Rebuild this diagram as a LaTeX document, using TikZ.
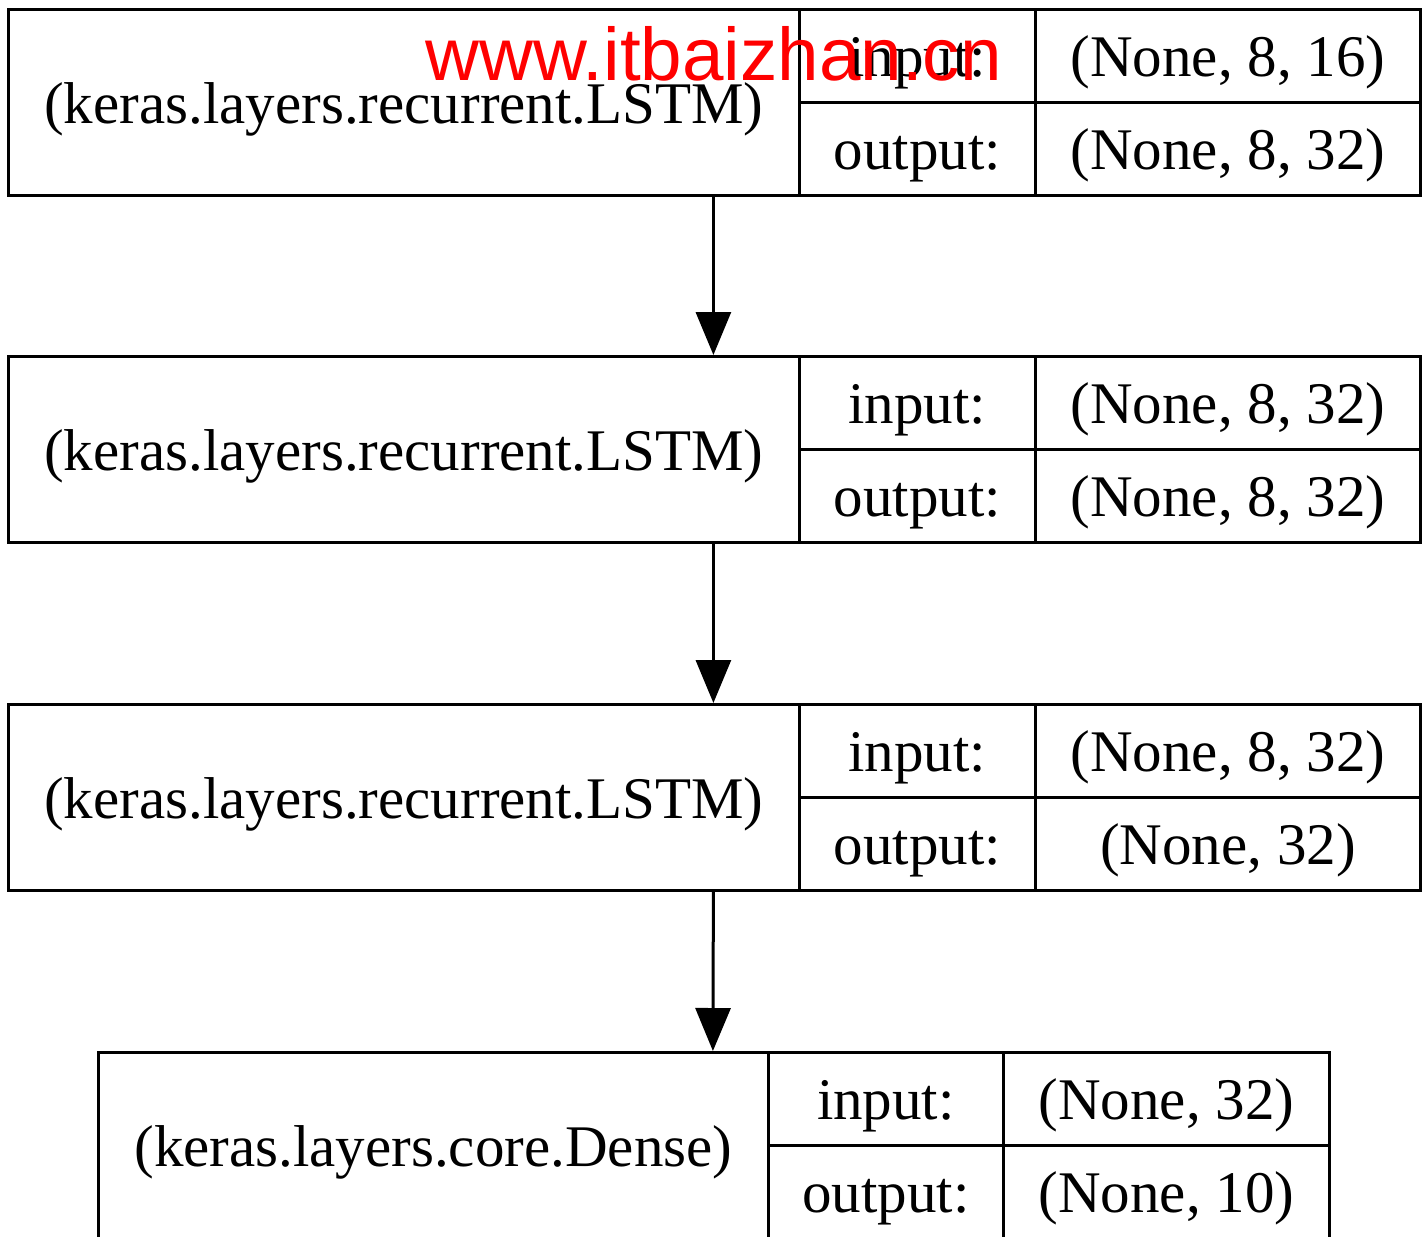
\documentclass[tikz,border=0pt]{standalone}
\usepackage{fontspec}
\setmainfont{Liberation Serif}
\newfontfamily\wmfont{Liberation Sans}
\usetikzlibrary{arrows.meta}
\newcommand{\kbox}[9]{%
  % #1 name, #2 top y, #3 x0, #4 x1, #5 x2, #6 x3, #7 label, #8 input, #9 output
  \node[rec, minimum width={(#6-#3)*0.5pt}] (#1) at (#3,#2) {};
  \node[cell, minimum width={(#4-#3)*0.5pt}, minimum height=93pt] (#1l) at (#3,#2) {#7};
  \node[cell, minimum width={(#5-#4)*0.5pt}, minimum height=46.5pt] (#1a) at (#4,#2) {input:};
  \node[cell, minimum width={(#6-#5)*0.5pt}, minimum height=46.5pt] (#1b) at (#5,#2) {#8};
  \node[cell, minimum width={(#5-#4)*0.5pt}, minimum height=46.5pt] (#1c) at (#4,#2+93) {output:};
  \node[cell, minimum width={(#6-#5)*0.5pt}, minimum height=46.5pt] (#1d) at (#5,#2+93) {#9};
}
\begin{document}
\begin{tikzpicture}[x=0.5pt,y=-0.5pt,
  cell/.style={draw=black, line width=1.4pt, inner sep=0pt, anchor=north west,
    text height=26.5pt, text depth=5.5pt,
    font=\fontsize{29.5}{35}\selectfont},
  rec/.style={inner sep=0pt, anchor=north west, minimum height=93pt},
  arr/.style={line width=1.5pt, -{Triangle[length=21.5pt,width=17.5pt]}},
  wm/.style={text=red, inner sep=0pt, font=\wmfont\fontsize{37.3}{44}\selectfont}]
\useasboundingbox[fill=white] (0,0) rectangle (1428,1236);
\kbox{k1}{8}{7}{798}{1034}{1419}{(keras.layers.recurrent.LSTM)}{(None, 8, 16)}{(None, 8, 32)}
\kbox{k2}{355}{7}{798}{1034}{1419}{(keras.layers.recurrent.LSTM)}{(None, 8, 32)}{(None, 8, 32)}
\kbox{k3}{703}{7}{798}{1034}{1419}{(keras.layers.recurrent.LSTM)}{(None, 8, 32)}{(None, 32)}
\kbox{k4}{1051}{97}{767}{1002}{1328}{(keras.layers.core.Dense)}{(None, 32)}{(None, 10)}
\draw[arr] (k1.south) -- (k2.north);
\draw[arr] (k2.south) -- (k3.north);
\draw[arr] (k3.south) -- (k4.north);
\node[wm, anchor=base west] (wmark) at (425,81) {www.itbaizhan.cn};
\end{tikzpicture}
\end{document}
